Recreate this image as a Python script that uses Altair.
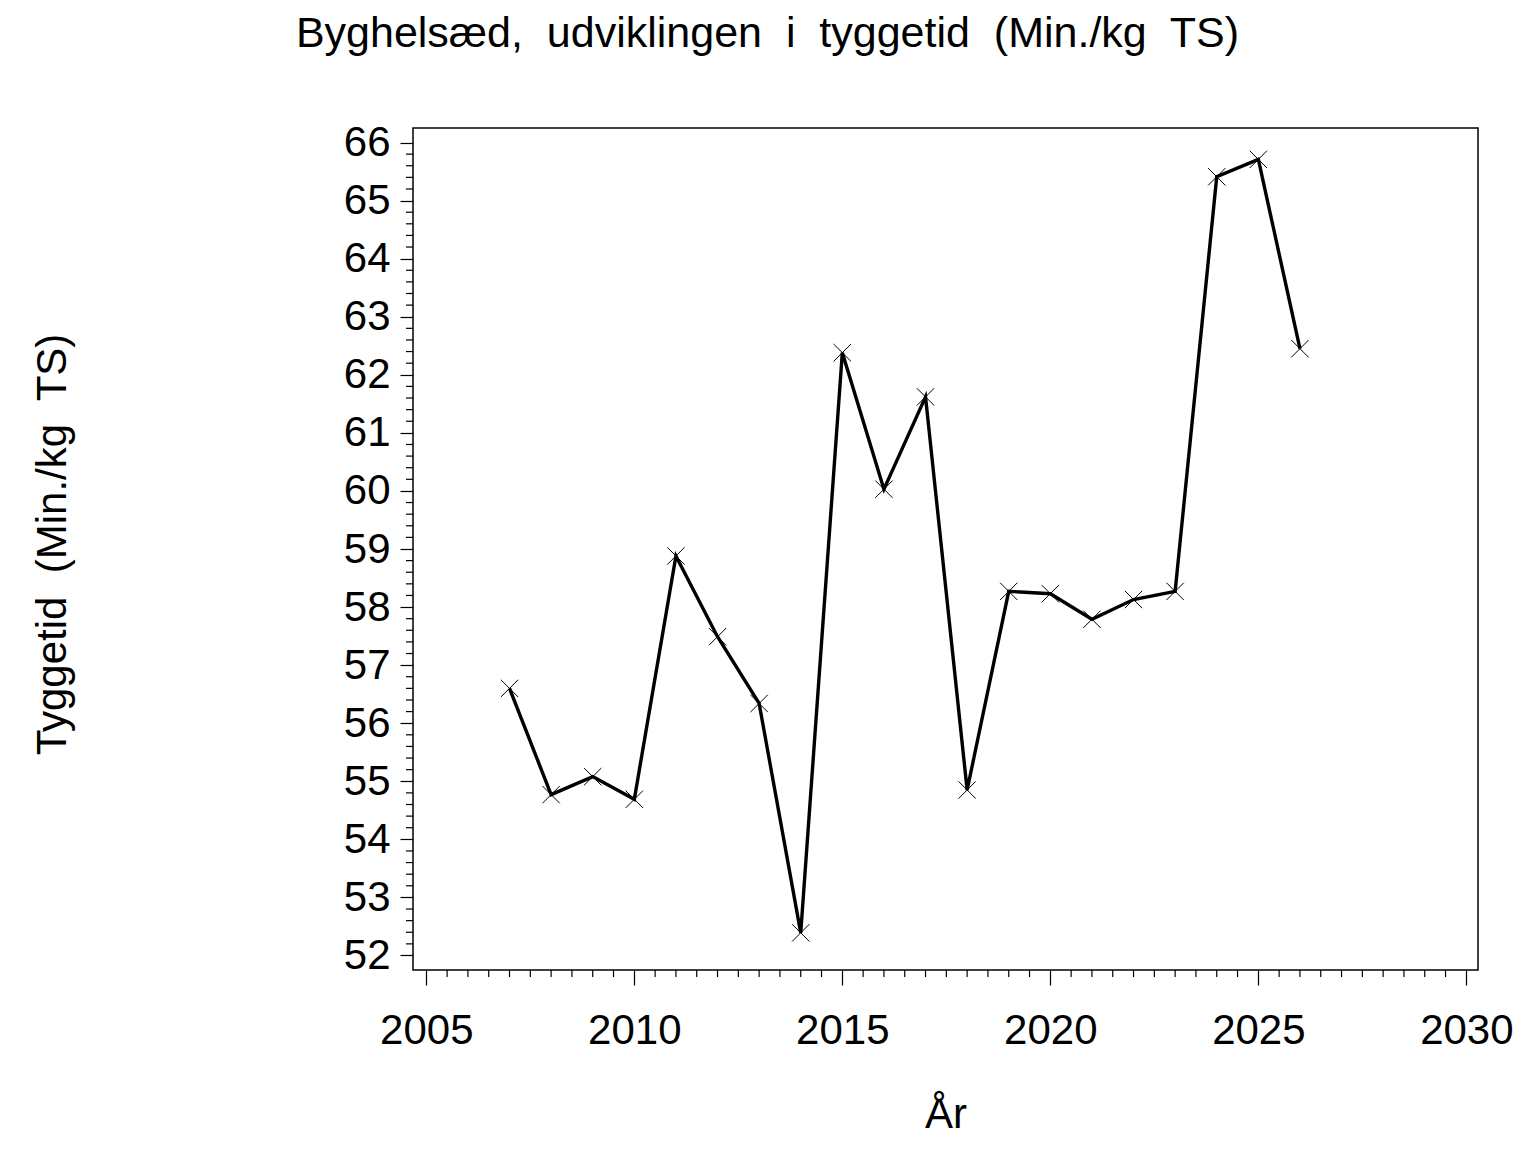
import altair as alt
import pandas as pd

years = [2007, 2008, 2009, 2010, 2011, 2012, 2013, 2014, 2015, 2016,
         2017, 2018, 2019, 2020, 2021, 2022, 2023, 2024, 2025, 2026]
values = [56.60, 54.77, 55.08, 54.69, 58.88, 57.49, 56.34, 52.39, 62.38, 60.03,
          61.62, 54.85, 58.27, 58.23, 57.79, 58.13, 58.27, 65.41, 65.71, 62.45]

x_major = [2005, 2010, 2015, 2020, 2025, 2030]
y_major = list(range(52, 67))
x_minor = [2005 + 0.5 * i for i in range(1, 50) if i % 10 != 0]
y_minor = [round(52 + 0.2 * i, 1) for i in range(1, 70) if i % 5 != 0]

title_text = "Byghelsæd,\u00a0 udviklingen\u00a0 i\u00a0 tyggetid\u00a0 (Min./kg\u00a0 TS)"
y_title = "Tyggetid\u00a0 (Min./kg\u00a0 TS)"
x_title = "År"

FONT = "Liberation Sans"
W, H = 1065, 842

df = pd.DataFrame({"year": years, "value": values})
df_xm = pd.DataFrame({"xm": x_minor})
df_ym = pd.DataFrame({"ym": y_minor})

xscale = alt.Scale(domain=[2004.68, 2030.28], nice=False, zero=False)
yscale = alt.Scale(domain=[51.75, 66.25], nice=False, zero=False)

xaxis = alt.Axis(values=x_major, format="d", title=x_title, domain=False, grid=False,
                 tickSize=15, tickColor="black", tickWidth=1.2,
                 labelFont=FONT, labelFontSize=42, labelColor="black",
                 labelBaseline="alphabetic", labelPadding=58, labelFlush=False,
                 titleFont=FONT, titleFontSize=42, titleFontWeight="normal",
                 titleColor="black", titleBaseline="alphabetic", titleY=157)
yaxis = alt.Axis(values=y_major, format="d", title=y_title, domain=False, grid=False,
                 tickSize=13, tickColor="black", tickWidth=1.2,
                 labelFont=FONT, labelFontSize=42, labelColor="black",
                 labelPadding=10, labelFlush=False,
                 titleFont=FONT, titleFontSize=42, titleFontWeight="normal",
                 titleColor="black", titleBaseline="alphabetic", titleAngle=270,
                 titleX=-348, titleY=416, titleAlign="center")

base = alt.Chart(df)

line = base.mark_line(color="black", strokeWidth=3.4).encode(
    x=alt.X("year:Q", scale=xscale, axis=xaxis),
    y=alt.Y("value:Q", scale=yscale, axis=yaxis),
)

pts = base.mark_point(
    shape="M-1,-1L1,1M-1,1L1,-1", size=300, filled=False,
    stroke="black", strokeWidth=1, opacity=1
).encode(x="year:Q", y="value:Q")

xminor = alt.Chart(df_xm).mark_rule(color="black", strokeWidth=1.2).encode(
    x=alt.X("xm:Q", scale=xscale),
    y=alt.value(H), y2=alt.value(H + 7),
)
yminor = alt.Chart(df_ym).mark_rule(color="black", strokeWidth=1.2).encode(
    y=alt.Y("ym:Q", scale=yscale),
    x=alt.value(-7), x2=alt.value(0),
)

chart = alt.layer(xminor, yminor, line, pts).properties(
    width=W, height=H,
    autosize=alt.AutoSizeParams(type="none"),
    padding={"left": 405, "top": 120, "right": 50, "bottom": 170},
    title=alt.TitleParams(title_text, font=FONT, fontSize=43, fontWeight="normal",
                          color="black", anchor="middle", frame="group",
                          dx=-178, baseline="alphabetic", offset=32),
    background="white",
).configure_view(stroke="black", strokeWidth=1.5)

chart.save("out.html", embed_options={"renderer": "svg", "actions": False})
